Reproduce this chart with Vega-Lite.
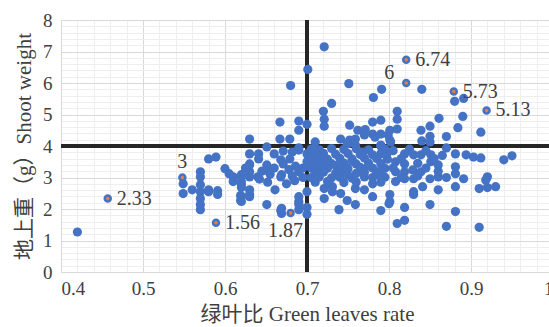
{
  "$schema": "https://vega.github.io/schema/vega-lite/v6.json",
  "width": 549,
  "height": 327,
  "autosize": {"type": "fit", "contains": "padding"},
  "padding": {"left": 13, "top": 11, "right": -6, "bottom": 3},
  "background": "white",
  "config": {
    "view": {"stroke": null},
    "font": "Liberation Serif",
    "style": {
      "guide-label": {"font": "Liberation Serif", "fontSize": 19, "fill": "#404040"},
      "guide-title": {"font": "Liberation Serif, Noto Sans CJK SC", "fontSize": 21, "fontWeight": "normal", "fill": "#404040"}
    },
    "axis": {"labelFont": "Liberation Serif", "titleFont": "Liberation Serif, Noto Sans CJK SC", "labelFontSize": 19, "titleFontSize": 21, "titleFontWeight": "normal", "labelColor": "#404040", "titleColor": "#404040"},
    "text": {"font": "Liberation Serif"}
  },
  "data": {"values": [
    {"x":0.42,"y":1.27,"g":"b"},{"x":0.549,"y":2.80,"g":"b"},{"x":0.549,"y":2.49,"g":"b"},{"x":0.560,"y":2.61,"g":"b"},
    {"x":0.570,"y":3.18,"g":"b"},{"x":0.570,"y":3.02,"g":"b"},{"x":0.570,"y":2.77,"g":"b"},{"x":0.570,"y":2.55,"g":"b"},
    {"x":0.570,"y":2.33,"g":"b"},{"x":0.570,"y":2.14,"g":"b"},{"x":0.570,"y":1.98,"g":"b"},{"x":0.580,"y":2.61,"g":"b"},
    {"x":0.591,"y":2.58,"g":"b"},{"x":0.591,"y":2.46,"g":"b"},{"x":0.580,"y":3.59,"g":"b"},{"x":0.589,"y":3.65,"g":"b"},
    {"x":0.600,"y":3.28,"g":"b"},{"x":0.610,"y":3.02,"g":"b"},{"x":0.610,"y":2.87,"g":"b"},{"x":0.620,"y":3.02,"g":"b"},
    {"x":0.620,"y":2.77,"g":"b"},{"x":0.619,"y":2.43,"g":"b"},{"x":0.619,"y":2.27,"g":"b"},{"x":0.630,"y":3.40,"g":"b"},
    {"x":0.630,"y":3.18,"g":"b"},{"x":0.630,"y":3.02,"g":"b"},{"x":0.630,"y":2.61,"g":"b"},{"x":0.630,"y":2.46,"g":"b"},
    {"x":0.640,"y":3.02,"g":"b"},{"x":0.651,"y":3.40,"g":"b"},{"x":0.651,"y":3.24,"g":"b"},{"x":0.661,"y":2.61,"g":"b"},
    {"x":0.651,"y":2.14,"g":"b"},{"x":0.668,"y":3.02,"g":"b"},{"x":0.668,"y":1.95,"g":"b"},{"x":0.630,"y":4.22,"g":"b"},
    {"x":0.651,"y":3.97,"g":"b"},{"x":0.667,"y":4.76,"g":"b"},{"x":0.667,"y":4.22,"g":"b"},{"x":0.630,"y":3.75,"g":"b"},
    {"x":0.630,"y":3.43,"g":"b"},{"x":0.641,"y":3.59,"g":"b"},{"x":0.660,"y":3.75,"g":"b"},{"x":0.641,"y":3.75,"g":"b"},
    {"x":0.671,"y":3.84,"g":"b"},{"x":0.682,"y":3.81,"g":"b"},{"x":0.690,"y":3.87,"g":"b"},{"x":0.668,"y":3.56,"g":"b"},
    {"x":0.671,"y":3.43,"g":"b"},{"x":0.679,"y":3.59,"g":"b"},{"x":0.620,"y":3.09,"g":"b"},{"x":0.620,"y":2.87,"g":"b"},
    {"x":0.620,"y":2.68,"g":"b"},{"x":0.630,"y":2.39,"g":"b"},{"x":0.620,"y":2.39,"g":"b"},{"x":0.620,"y":2.24,"g":"b"},
    {"x":0.669,"y":3.09,"g":"b"},{"x":0.690,"y":3.18,"g":"b"},{"x":0.669,"y":2.02,"g":"b"},{"x":0.669,"y":1.86,"g":"b"},
    {"x":0.690,"y":2.24,"g":"b"},{"x":0.690,"y":1.98,"g":"b"},{"x":0.580,"y":2.55,"g":"b"},{"x":0.679,"y":4.22,"g":"b"},
    {"x":0.605,"y":3.12,"g":"b"},{"x":0.625,"y":3.30,"g":"b"},{"x":0.645,"y":3.20,"g":"b"},{"x":0.655,"y":3.10,"g":"b"},
    {"x":0.660,"y":3.30,"g":"b"},{"x":0.678,"y":3.25,"g":"b"},{"x":0.682,"y":3.05,"g":"b"},{"x":0.686,"y":3.36,"g":"b"},
    {"x":0.695,"y":3.30,"g":"b"},{"x":0.695,"y":3.00,"g":"b"},{"x":0.685,"y":2.90,"g":"b"},{"x":0.675,"y":2.80,"g":"b"},
    {"x":0.642,"y":2.95,"g":"b"},{"x":0.652,"y":2.85,"g":"b"},{"x":0.690,"y":2.39,"g":"b"},{"x":0.690,"y":2.15,"g":"b"},
    {"x":0.700,"y":2.55,"g":"b"},{"x":0.700,"y":1.83,"g":"b"},{"x":0.700,"y":2.05,"g":"b"},
    {"x":0.721,"y":7.15,"g":"b"},{"x":0.701,"y":6.43,"g":"b"},{"x":0.680,"y":5.92,"g":"b"},{"x":0.751,"y":5.98,"g":"b"},
    {"x":0.791,"y":5.80,"g":"b"},{"x":0.781,"y":5.54,"g":"b"},{"x":0.840,"y":5.80,"g":"b"},{"x":0.880,"y":5.42,"g":"b"},
    {"x":0.891,"y":5.51,"g":"b"},{"x":0.730,"y":5.35,"g":"b"},{"x":0.720,"y":5.10,"g":"b"},{"x":0.810,"y":5.10,"g":"b"},
    {"x":0.690,"y":4.79,"g":"b"},{"x":0.700,"y":4.69,"g":"b"},{"x":0.690,"y":4.50,"g":"b"},{"x":0.721,"y":4.85,"g":"b"},
    {"x":0.721,"y":4.63,"g":"b"},{"x":0.752,"y":4.66,"g":"b"},{"x":0.762,"y":4.50,"g":"b"},{"x":0.771,"y":4.52,"g":"b"},
    {"x":0.780,"y":4.76,"g":"b"},{"x":0.790,"y":4.82,"g":"b"},{"x":0.780,"y":4.38,"g":"b"},{"x":0.790,"y":4.38,"g":"b"},
    {"x":0.801,"y":4.50,"g":"b"},{"x":0.810,"y":4.85,"g":"b"},{"x":0.810,"y":4.54,"g":"b"},{"x":0.801,"y":4.19,"g":"b"},
    {"x":0.839,"y":4.50,"g":"b"},{"x":0.850,"y":4.63,"g":"b"},{"x":0.861,"y":4.88,"g":"b"},{"x":0.890,"y":4.94,"g":"b"},
    {"x":0.884,"y":4.58,"g":"b"},{"x":0.912,"y":4.44,"g":"b"},{"x":0.850,"y":4.31,"g":"b"},{"x":0.840,"y":4.16,"g":"b"},
    {"x":0.870,"y":4.30,"g":"b"},{"x":0.710,"y":4.13,"g":"b"},{"x":0.741,"y":4.22,"g":"b"},{"x":0.752,"y":4.19,"g":"b"},
    {"x":0.759,"y":4.22,"g":"b"},{"x":0.770,"y":4.35,"g":"b"},{"x":0.783,"y":4.28,"g":"b"},{"x":0.790,"y":4.00,"g":"b"},
    {"x":0.850,"y":4.13,"g":"b"},{"x":0.870,"y":3.94,"g":"b"},{"x":0.894,"y":3.72,"g":"b"},{"x":0.903,"y":3.65,"g":"b"},
    {"x":0.912,"y":3.62,"g":"b"},{"x":0.940,"y":3.56,"g":"b"},{"x":0.950,"y":3.69,"g":"b"},{"x":0.881,"y":3.75,"g":"b"},
    {"x":0.690,"y":3.94,"g":"b"},{"x":0.710,"y":3.91,"g":"b"},{"x":0.749,"y":4.06,"g":"b"},{"x":0.759,"y":4.03,"g":"b"},
    {"x":0.768,"y":3.81,"g":"b"},{"x":0.790,"y":4.03,"g":"b"},{"x":0.780,"y":3.72,"g":"b"},{"x":0.790,"y":3.75,"g":"b"},
    {"x":0.700,"y":3.50,"g":"b"},{"x":0.700,"y":3.75,"g":"b"},{"x":0.799,"y":4.35,"g":"b"},{"x":0.802,"y":4.13,"g":"b"},
    {"x":0.819,"y":3.75,"g":"b"},{"x":0.830,"y":3.72,"g":"b"},{"x":0.808,"y":3.50,"g":"b"},{"x":0.819,"y":3.43,"g":"b"},
    {"x":0.839,"y":3.72,"g":"b"},{"x":0.851,"y":3.72,"g":"b"},{"x":0.851,"y":3.50,"g":"b"},{"x":0.860,"y":3.40,"g":"b"},
    {"x":0.881,"y":3.34,"g":"b"},{"x":0.920,"y":3.02,"g":"b"},{"x":0.881,"y":3.12,"g":"b"},{"x":0.839,"y":3.18,"g":"b"},
    {"x":0.829,"y":3.24,"g":"b"},{"x":0.819,"y":3.18,"g":"b"},{"x":0.808,"y":3.18,"g":"b"},{"x":0.850,"y":2.96,"g":"b"},
    {"x":0.860,"y":3.02,"g":"b"},{"x":0.808,"y":2.87,"g":"b"},{"x":0.819,"y":2.96,"g":"b"},{"x":0.830,"y":2.96,"g":"b"},
    {"x":0.830,"y":2.55,"g":"b"},{"x":0.830,"y":2.46,"g":"b"},{"x":0.841,"y":2.71,"g":"b"},{"x":0.860,"y":2.61,"g":"b"},
    {"x":0.881,"y":2.71,"g":"b"},{"x":0.891,"y":2.96,"g":"b"},{"x":0.801,"y":2.46,"g":"b"},{"x":0.801,"y":2.24,"g":"b"},
    {"x":0.819,"y":2.05,"g":"b"},{"x":0.819,"y":1.64,"g":"b"},{"x":0.810,"y":1.54,"g":"b"},{"x":0.850,"y":2.14,"g":"b"},
    {"x":0.881,"y":1.92,"g":"b"},{"x":0.870,"y":1.45,"g":"b"},{"x":0.910,"y":1.42,"g":"b"},{"x":0.910,"y":2.65,"g":"b"},
    {"x":0.918,"y":2.92,"g":"b"},{"x":0.920,"y":2.68,"g":"b"},{"x":0.930,"y":2.71,"g":"b"},
    {"x":0.721,"y":2.33,"g":"b"},{"x":0.739,"y":1.98,"g":"b"},{"x":0.741,"y":2.49,"g":"b"},{"x":0.749,"y":2.27,"g":"b"},
    {"x":0.759,"y":2.14,"g":"b"},{"x":0.780,"y":2.39,"g":"b"},{"x":0.790,"y":1.95,"g":"b"},{"x":0.800,"y":2.17,"g":"b"},
    {"x":0.731,"y":2.71,"g":"b"},{"x":0.759,"y":2.65,"g":"b"},{"x":0.770,"y":2.61,"g":"b"},{"x":0.780,"y":2.80,"g":"b"},
    {"x":0.721,"y":2.65,"g":"b"},{"x":0.731,"y":2.55,"g":"b"},
    {"x":0.705,"y":3.90,"g":"b"},{"x":0.715,"y":3.88,"g":"b"},{"x":0.730,"y":3.92,"g":"b"},{"x":0.745,"y":3.89,"g":"b"},
    {"x":0.760,"y":3.91,"g":"b"},{"x":0.775,"y":3.88,"g":"b"},{"x":0.795,"y":3.90,"g":"b"},
    {"x":0.710,"y":3.75,"g":"b"},{"x":0.720,"y":3.77,"g":"b"},{"x":0.735,"y":3.74,"g":"b"},{"x":0.750,"y":3.76,"g":"b"},
    {"x":0.765,"y":3.73,"g":"b"},{"x":0.785,"y":3.60,"g":"b"},
    {"x":0.705,"y":3.60,"g":"b"},{"x":0.715,"y":3.62,"g":"b"},{"x":0.725,"y":3.58,"g":"b"},{"x":0.740,"y":3.61,"g":"b"},
    {"x":0.755,"y":3.59,"g":"b"},{"x":0.770,"y":3.62,"g":"b"},{"x":0.798,"y":3.58,"g":"b"},
    {"x":0.710,"y":3.45,"g":"b"},{"x":0.720,"y":3.47,"g":"b"},{"x":0.730,"y":3.44,"g":"b"},{"x":0.745,"y":3.46,"g":"b"},
    {"x":0.760,"y":3.43,"g":"b"},{"x":0.775,"y":3.46,"g":"b"},{"x":0.790,"y":3.44,"g":"b"},
    {"x":0.705,"y":3.30,"g":"b"},{"x":0.715,"y":3.32,"g":"b"},{"x":0.725,"y":3.29,"g":"b"},{"x":0.740,"y":3.31,"g":"b"},
    {"x":0.750,"y":3.28,"g":"b"},{"x":0.765,"y":3.32,"g":"b"},{"x":0.780,"y":3.30,"g":"b"},{"x":0.795,"y":3.29,"g":"b"},
    {"x":0.710,"y":3.15,"g":"b"},{"x":0.720,"y":3.17,"g":"b"},{"x":0.735,"y":3.14,"g":"b"},{"x":0.745,"y":3.16,"g":"b"},
    {"x":0.760,"y":3.13,"g":"b"},{"x":0.770,"y":3.17,"g":"b"},{"x":0.785,"y":3.15,"g":"b"},
    {"x":0.705,"y":3.00,"g":"b"},{"x":0.715,"y":3.02,"g":"b"},{"x":0.730,"y":2.99,"g":"b"},{"x":0.740,"y":3.01,"g":"b"},
    {"x":0.755,"y":2.98,"g":"b"},{"x":0.770,"y":3.02,"g":"b"},{"x":0.780,"y":3.00,"g":"b"},{"x":0.795,"y":3.01,"g":"b"},
    {"x":0.710,"y":2.85,"g":"b"},{"x":0.725,"y":2.87,"g":"b"},{"x":0.745,"y":2.84,"g":"b"},{"x":0.760,"y":2.86,"g":"b"},
    {"x":0.790,"y":2.85,"g":"b"},
    {"x":0.755,"y":3.52,"g":"b"},{"x":0.775,"y":3.38,"g":"b"},{"x":0.765,"y":3.22,"g":"b"},{"x":0.790,"y":3.22,"g":"b"},
    {"x":0.735,"y":3.38,"g":"b"},{"x":0.785,"y":3.08,"g":"b"},{"x":0.750,"y":3.08,"g":"b"},{"x":0.797,"y":3.70,"g":"b"},
    {"x":0.805,"y":3.85,"g":"b"},{"x":0.815,"y":3.60,"g":"b"},{"x":0.825,"y":3.90,"g":"b"},{"x":0.835,"y":3.45,"g":"b"},
    {"x":0.845,"y":3.85,"g":"b"},{"x":0.855,"y":3.60,"g":"b"},{"x":0.865,"y":3.70,"g":"b"},{"x":0.805,"y":3.30,"g":"b"},
    {"x":0.845,"y":3.30,"g":"b"},{"x":0.815,"y":3.00,"g":"b"},{"x":0.835,"y":3.05,"g":"b"},{"x":0.860,"y":3.20,"g":"b"},
    {"x":0.870,"y":3.00,"g":"b"},
    {"x":0.457,"y":2.33,"g":"o","t":"2.33"},{"x":0.548,"y":3.0,"g":"o","t":"3"},{"x":0.589,"y":1.56,"g":"o","t":"1.56"},
    {"x":0.680,"y":1.87,"g":"o","t":"1.87"},{"x":0.821,"y":6.74,"g":"o","t":"6.74"},{"x":0.821,"y":6.0,"g":"o","t":"6"},
    {"x":0.879,"y":5.73,"g":"o","t":"5.73"},{"x":0.919,"y":5.13,"g":"o","t":"5.13"}
  ]},
  "layer": [
    {
      "data": {"values": [{}]},
      "mark": {"type": "rule", "color": "#262626", "strokeWidth": 4},
      "encoding": {
        "x": {"datum": 0.7, "type": "quantitative",
          "axis": {"orient": "bottom", "values": [0.42,0.44,0.46,0.48,0.52,0.54,0.56,0.58,0.62,0.64,0.66,0.68,0.72,0.74,0.76,0.78,0.82,0.84,0.86,0.88,0.92,0.94,0.96,0.98],
            "grid": true, "gridColor": "#eeeeee", "gridWidth": 1, "domain": false, "ticks": false, "labels": false, "title": null}}
      }
    },
    {
      "data": {"values": [{}]},
      "mark": {"type": "rule", "color": "#262626", "strokeWidth": 4},
      "encoding": {
        "y": {"datum": 4, "type": "quantitative",
          "axis": {"orient": "left", "values": [0.2,0.4,0.6,0.8,1.2,1.4,1.6,1.8,2.2,2.4,2.6,2.8,3.2,3.4,3.6,3.8,4.2,4.4,4.6,4.8,5.2,5.4,5.6,5.8,6.2,6.4,6.6,6.8,7.2,7.4,7.6,7.8],
            "grid": true, "gridColor": "#eeeeee", "gridWidth": 1, "domain": false, "ticks": false, "labels": false, "title": null}}
      }
    },
    {
      "transform": [{"filter": "datum.g == 'b'"}],
      "mark": {"type": "circle", "size": 85, "color": "#4472C4", "opacity": 1},
      "encoding": {
        "x": {"field": "x", "type": "quantitative",
          "scale": {"domain": [0.4, 1], "nice": false, "zero": false},
          "axis": {"orient": "bottom", "values": [0.4,0.5,0.6,0.7,0.8,0.9,1],
            "labelExpr": "datum.value == 1 ? '1' : format(datum.value, '.1f')",
            "grid": true, "gridColor": "#d9d9d9", "domainColor": "#d9d9d9", "ticks": false,
            "labelFont": "Liberation Serif", "labelFontSize": 19, "labelColor": "#404040", "labelPadding": 7,
            "title": "绿叶比 Green leaves rate", "titleFont": "Liberation Serif, Noto Sans CJK SC", "titleFontSize": 21,
            "titleFontWeight": "normal", "titleColor": "#404040", "titlePadding": 5}},
        "y": {"field": "y", "type": "quantitative",
          "scale": {"domain": [0, 8], "nice": false, "zero": true},
          "axis": {"orient": "left", "values": [0,1,2,3,4,5,6,7,8],
            "grid": true, "gridColor": "#d9d9d9", "domainColor": "#d9d9d9", "ticks": false,
            "labelFont": "Liberation Serif", "labelFontSize": 19, "labelColor": "#404040", "labelPadding": 9,
            "title": "地上重（g）Shoot weight", "titleFont": "Liberation Serif, Noto Sans CJK SC", "titleFontSize": 21,
            "titleFontWeight": "normal", "titleColor": "#404040", "titlePadding": 8}}
      }
    },
    {
      "transform": [{"filter": "datum.g == 'o'"}],
      "mark": {"type": "circle", "size": 36, "fill": "#ED7D31", "stroke": "#4472C4", "strokeWidth": 2.5, "opacity": 1},
      "encoding": {
        "x": {"field": "x", "type": "quantitative", "axis": null},
        "y": {"field": "y", "type": "quantitative", "axis": null}
      }
    },
    {
      "transform": [{"filter": {"field": "t", "oneOf": ["2.33", "1.56", "6.74", "5.73", "5.13"]}}],
      "mark": {"type": "text", "align": "left", "baseline": "middle", "dx": 9, "dy": 0, "font": "Liberation Serif", "fontSize": 20, "color": "#404040"},
      "encoding": {
        "x": {"field": "x", "type": "quantitative", "axis": null},
        "y": {"field": "y", "type": "quantitative", "axis": null},
        "text": {"field": "t"}
      }
    },
    {
      "transform": [{"filter": "datum.t == '3'"}],
      "mark": {"type": "text", "align": "center", "baseline": "middle", "dx": 0, "dy": -16, "font": "Liberation Serif", "fontSize": 20, "color": "#404040"},
      "encoding": {
        "x": {"field": "x", "type": "quantitative", "axis": null},
        "y": {"field": "y", "type": "quantitative", "axis": null},
        "text": {"field": "t"}
      }
    },
    {
      "transform": [{"filter": "datum.t == '1.87'"}],
      "mark": {"type": "text", "align": "center", "baseline": "middle", "dx": -5, "dy": 18, "font": "Liberation Serif", "fontSize": 20, "color": "#404040"},
      "encoding": {
        "x": {"field": "x", "type": "quantitative", "axis": null},
        "y": {"field": "y", "type": "quantitative", "axis": null},
        "text": {"field": "t"}
      }
    },
    {
      "transform": [{"filter": "datum.t == '6'"}],
      "mark": {"type": "text", "align": "center", "baseline": "middle", "dx": -17, "dy": -10, "font": "Liberation Serif", "fontSize": 20, "color": "#404040"},
      "encoding": {
        "x": {"field": "x", "type": "quantitative", "axis": null},
        "y": {"field": "y", "type": "quantitative", "axis": null},
        "text": {"field": "t"}
      }
    }
  ],
  "resolve": {"axis": {"x": "independent", "y": "independent"}}
}
